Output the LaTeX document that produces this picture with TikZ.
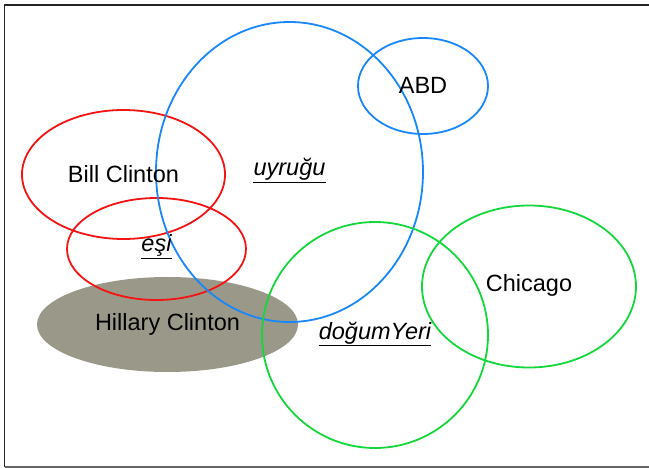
\documentclass[tikz,border=0pt]{standalone}
\usepackage{fontspec}
\setmainfont{Liberation Sans}
\usetikzlibrary{shapes.geometric}

\definecolor{setred}{RGB}{245,20,20}
\definecolor{setblue}{RGB}{25,135,250}
\definecolor{setgreen}{RGB}{20,215,60}
\definecolor{setgray}{RGB}{154,153,137}

\begin{document}
\begin{tikzpicture}[x=1pt,y=-1pt,
  setshape/.style={ellipse, draw, line width=1.8pt, inner sep=0pt},
  entity/.style={anchor=base, inner sep=0pt, font=\fontsize{23.5}{28}\selectfont},
  relation/.style={anchor=base, inner sep=0pt, font=\fontsize{23.5}{28}\selectfont\itshape},
  uline/.style={line width=1.3pt, black}
]
\useasboundingbox (0,0) rectangle (649,468);

% frame
\draw[line width=1.5pt, black!85] (649,5) -- (4.5,5) -- (4.5,467);
\draw[line width=1.5pt, black!60] (4.5,467) -- (649,467);

% filled entity
\node[setshape, draw=none, fill=setgray, minimum width=261pt, minimum height=95pt] (hillary) at (167.5,324.5) {};

% red sets
\node[setshape, draw=setred, minimum width=203pt, minimum height=129pt] (bill) at (123.5,174.5) {};
\node[setshape, draw=setred, minimum width=179pt, minimum height=102pt] (esi) at (156.5,249) {};

% blue sets
\node[setshape, draw=setblue, minimum width=267pt, minimum height=300pt] (uyrugu) at (289.5,172) {};
\node[setshape, draw=setblue, minimum width=130pt, minimum height=96pt] (abd) at (423,86) {};

% green sets
\node[setshape, draw=setgreen, minimum width=226pt, minimum height=226pt] (dogum) at (375,335) {};
\node[setshape, draw=setgreen, minimum width=214pt, minimum height=162pt] (chicago) at (529,286.5) {};

% entity labels
\node[entity] (tbill) at ([yshift=-8.2pt]bill.center) {Bill Clinton};
\node[entity] (thillary) at ([yshift=-6.2pt]hillary.center) {Hillary Clinton};
\node[entity] (tabd) at ([yshift=-8pt]abd.center) {ABD};
\node[entity] (tchicago) at ([yshift=-5.2pt]chicago.center) {Chicago};

% relation labels, underlined
\node[relation] (tesi) at ([yshift=-2.7pt]esi.center) {eşi};
\node[relation] (tuyrugu) at ([yshift=-4pt]uyrugu.center) {uyruğu};
\node[relation] (tdogum) at ([yshift=-4.3pt]dogum.center) {doğumYeri};
\draw[uline] ([yshift=-6.5pt]tesi.base west) -- ([yshift=-6.5pt]tesi.base east);
\draw[uline] ([yshift=-6.8pt]tuyrugu.base west) -- ([yshift=-6.8pt]tuyrugu.base east);
\draw[uline] ([yshift=-6.5pt]tdogum.base west) -- ([yshift=-6.5pt]tdogum.base east);
\end{tikzpicture}
\end{document}
